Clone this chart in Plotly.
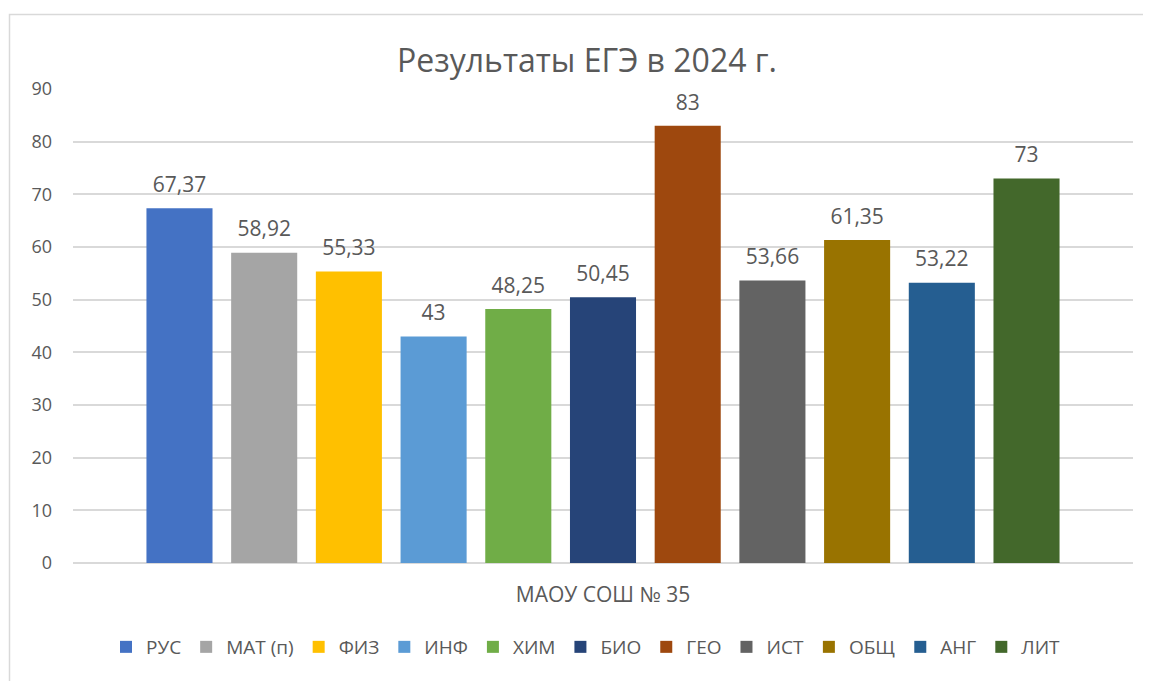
import plotly.graph_objects as go

school = "МАОУ СОШ № 35"
subjects = ["РУС", "МАТ (п)", "ФИЗ", "ИНФ", "ХИМ", "БИО", "ГЕО", "ИСТ", "ОБЩ", "АНГ", "ЛИТ"]
scores = [67.37, 58.92, 55.33, 43, 48.25, 50.45, 83, 53.66, 61.35, 53.22, 73]
colors = ["#4472C4", "#A5A5A5", "#FFC000", "#5B9BD5", "#70AD47", "#264478",
          "#9E480E", "#636363", "#997300", "#255E91", "#43682B"]
y_ticks = [0, 10, 20, 30, 40, 50, 60, 70, 80, 90]

FONT = "Open Sans"
TXT = "#595959"

fig = go.Figure()
for name, val, col in zip(subjects, scores, colors):
    fig.add_trace(go.Bar(
        name=name,
        x=[school],
        y=[val],
        offsetgroup=name,
        marker=dict(color=col, line=dict(width=0)),
        hoverinfo="name+y",
    ))
# value labels, grouped the same way as the bars
for name, val in zip(subjects, scores):
    fig.add_trace(go.Scatter(
        x=[school],
        y=[val],
        offsetgroup=name,
        mode="markers+text",
        marker=dict(size=16, opacity=0, color="white"),
        text=[f"{val:g}".replace(".", ",")],
        textposition="top center",
        textfont=dict(family=FONT, size=21, color=TXT),
        showlegend=False,
        hoverinfo="skip",
        cliponaxis=False,
    ))

# the page adds an 8px body margin; the figure is sized to fit the window
OFF = 8
W, H = 1151 - OFF, 681 - OFF
PL, PR, PT, PB = 73, 1133, 89, 563  # plot area in window pixels
L, T = PL - OFF, PT - OFF
R = W - (PR - OFF)
B = H - (PB - OFF)
pw, ph = PR - PL, PB - PT

def px_x(p):
    return (p - PL) / pw

def px_y(p):
    return (PB - p) / ph

fig.update_layout(
    width=W, height=H,
    margin=dict(l=L, r=R, t=T, b=B, autoexpand=False),
    paper_bgcolor="white",
    plot_bgcolor="white",
    barmode="group",
    bargap=0.121,
    bargroupgap=0.22,
    scattermode="group",
    scattergap=0.121,
    title=dict(
        text="Результаты ЕГЭ в 2024 г.",
        x=(587 - OFF) / W, xanchor="center",
        y=1 - (61 - OFF) / H, yanchor="middle",
        font=dict(family=FONT, size=32, color=TXT),
    ),
    font=dict(family=FONT, color=TXT),
    showlegend=True,
    legend=dict(
        orientation="h",
        x=px_x(586), xanchor="center",
        y=px_y(647), yanchor="middle",
        font=dict(family=FONT, size=19, color=TXT),
        itemwidth=30,
        traceorder="normal",
    ),
    xaxis=dict(
        type="category",
        showgrid=False,
        showline=False,
        ticks="",
        tickfont=dict(family=FONT, size=21, color=TXT),
        ticklabelstandoff=17,
    ),
    yaxis=dict(
        range=[0, 90],
        tickvals=y_ticks,
        showgrid=True,
        gridcolor="#D9D9D9",
        gridwidth=1.5,
        zeroline=True,
        zerolinecolor="#D9D9D9",
        zerolinewidth=1.5,
        showline=False,
        ticks="",
        tickfont=dict(family=FONT, size=18, color=TXT),
        ticklabelstandoff=20,
    ),
    shapes=[dict(
        type="rect", xref="paper", yref="paper",
        x0=px_x(9.5), x1=px_x(1151 + 5), y0=px_y(681 + 5), y1=px_y(14.5),
        line=dict(color="#D9D9D9", width=1.5),
        fillcolor="rgba(0,0,0,0)",
        layer="below",
    )],
)

fig.write_html("out.html")
